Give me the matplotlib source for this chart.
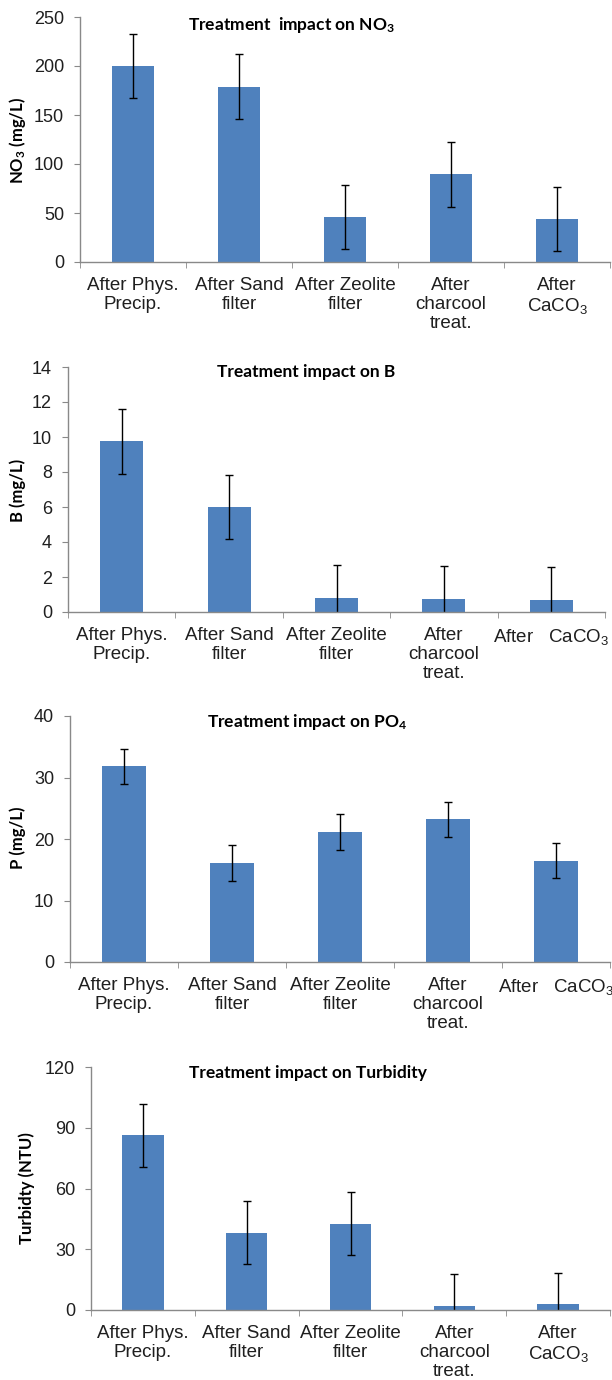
import numpy as np
import matplotlib
matplotlib.use("Agg")
import matplotlib.pyplot as plt

plt.rcParams["mathtext.fontset"] = "custom"
plt.rcParams["mathtext.default"] = "regular"

# Data
labels_wrapped = ["After Phys.\nPrecip.", "After Sand\nfilter", "After Zeolite\nfilter",
                  "After\ncharcool\ntreat.", "After\nCaCO$_3$"]
labels_single = ["After Phys.\nPrecip.", "After Sand\nfilter", "After Zeolite\nfilter",
                 "After\ncharcool\ntreat.", "After   CaCO$_3$"]

no3_values = [200, 179, 46, 89.5, 44]
no3_errors = [33, 33, 33, 33, 33]

b_values = [9.75, 6.0, 0.82, 0.76, 0.71]
b_errors = [1.85, 1.85, 1.87, 1.87, 1.85]

p_values = [31.8, 16.1, 21.1, 23.2, 16.5]
p_errors = [2.9, 2.9, 2.9, 2.85, 2.9]

turb_values = [86.2, 38.2, 42.7, 2.1, 3.1]
turb_errors = [15.6, 15.5, 15.4, 15.6, 15.3]

W, H = 612, 1380
fig = plt.figure(figsize=(W / 100, H / 100), dpi=100)

bar_color = "#4F81BD"
axis_gray = "#898989"
text_dark = "#1f1f1f"

# (values, errors, ymax, ystep, labels, title, ylabel, box px, title px, ylabel px)
panels = [
    (no3_values, no3_errors, 250, 50, labels_wrapped, "Treatment  impact on NO$_3$", "NO$_3$ (mg/L)",
     (80, 610, 17, 262), (291, 25), (18, 140)),
    (b_values, b_errors, 14, 2, labels_single, "Treatment impact on B", "B (mg/L)",
     (68, 605, 367, 612), (306, 372), (18, 490)),
    (p_values, p_errors, 40, 10, labels_single, "Treatment impact on PO$_4$", "P (mg/L)",
     (70, 610, 716, 962), (307, 722), (18, 838)),
    (turb_values, turb_errors, 120, 30, labels_wrapped, "Treatment impact on Turbidity", "Turbidty (NTU)",
     (91, 610, 1067, 1310), (308, 1073), (27, 1188)),
]

x = np.arange(5)
for vals, errs, ymax, ystep, labs, title, ylabel, box, tpos, ypos in panels:
    l, r, t, b = box
    ax = fig.add_axes([l / W, 1 - b / H, (r - l) / W, (b - t) / H])
    ax.bar(x, vals, width=0.4, color=bar_color, edgecolor="none", zorder=2)
    ax.errorbar(x, vals, yerr=errs, fmt="none", ecolor="black", elinewidth=1,
                capsize=3, capthick=1, zorder=3)
    ax.set_xlim(-0.5, 4.5)
    ax.set_ylim(0, ymax)
    ax.set_yticks(np.arange(0, ymax + ystep / 2, ystep))
    ax.set_xticks(x)
    ax.set_xticklabels(labs, fontsize=13.5, family="Liberation Sans", color=text_dark,
                       linespacing=1.17)
    ax.set_xticks(np.arange(-0.5, 5, 1), minor=True)
    ax.tick_params(axis="x", which="major", length=0, pad=10.5)
    ax.tick_params(axis="x", which="minor", length=4.5, color=axis_gray, direction="out")
    ax.tick_params(axis="y", length=4.5, color=axis_gray, direction="out", pad=7,
                   labelsize=13, labelcolor=text_dark)
    for lab in ax.get_yticklabels():
        lab.set_family("Liberation Sans")
    for s in ["top", "right"]:
        ax.spines[s].set_visible(False)
    for s in ["left", "bottom"]:
        ax.spines[s].set_color(axis_gray)
        ax.spines[s].set_linewidth(1)
        ax.spines[s].set_zorder(4)

    fig.text(tpos[0] / W, 1 - tpos[1] / H, title, ha="center", va="center",
             fontsize=12.5, fontweight="bold", family="Lato", color="black")
    fig.text(ypos[0] / W, 1 - ypos[1] / H, ylabel, ha="center", va="center", rotation=90,
             fontsize=12, fontweight="bold", family="Lato", color="black")

fig.savefig("out.png", dpi=100)
